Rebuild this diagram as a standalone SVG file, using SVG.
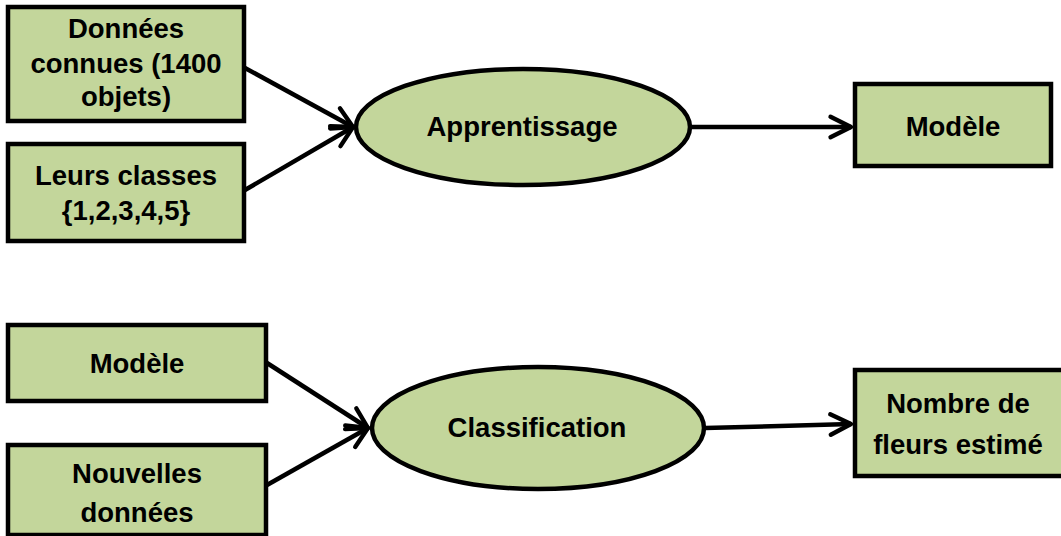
<svg xmlns="http://www.w3.org/2000/svg" width="1061" height="536" viewBox="0 0 1061 536">
<defs>
<style>
.n{fill:#C3D69B;stroke:#000;stroke-width:4.5}
.t{font-family:"Liberation Sans",Arial,sans-serif;font-weight:bold;font-size:27.5px;fill:#000;text-anchor:middle}
.c{stroke:#000;stroke-width:4.5;fill:none;marker-end:url(#ah)}
</style>
<marker id="ah" viewBox="0 0 20 20" refX="17" refY="10" markerWidth="6.5" markerHeight="6.5" markerUnits="strokeWidth" orient="auto">
<path d="M3,3 L17,10 L3,17" fill="none" stroke="#000" stroke-width="3" stroke-linecap="round" stroke-linejoin="round"/>
</marker>
</defs>
<rect width="1061" height="536" fill="#fff"/>
<g id="connectors">
<line class="c" x1="245" y1="68" x2="353" y2="127"/>
<line class="c" x1="245" y1="190" x2="353" y2="127"/>
<line class="c" x1="690" y1="127" x2="851" y2="127"/>
<line class="c" x1="267" y1="363" x2="368" y2="428"/>
<line class="c" x1="267" y1="485" x2="368" y2="428"/>
<line class="c" x1="705" y1="428" x2="851" y2="424"/>
</g>
<g id="n1"><rect class="n" x="8" y="7" width="236" height="114"/>
<text class="t" x="126" y="38">Données</text><text class="t" x="126" y="73">connues (1400</text><text class="t" x="126" y="106">objets)</text></g>
<g id="n2"><rect class="n" x="8" y="144" width="236" height="97"/>
<text class="t" x="126" y="185">Leurs classes</text><text class="t" x="126" y="220">{1,2,3,4,5}</text></g>
<g id="n3"><ellipse class="n" cx="523" cy="127" rx="167" ry="58"/>
<text class="t" x="522" y="136">Apprentissage</text></g>
<g id="n4"><rect class="n" x="855" y="84" width="196" height="82"/>
<text class="t" x="953" y="136">Modèle</text></g>
<g id="n5"><rect class="n" x="8" y="325" width="258" height="76"/>
<text class="t" x="137" y="373">Modèle</text></g>
<g id="n6"><rect class="n" x="8" y="445" width="258" height="90"/>
<text class="t" x="137" y="483">Nouvelles</text><text class="t" x="137" y="522">données</text></g>
<g id="n7"><ellipse class="n" cx="538" cy="428" rx="166" ry="61"/>
<text class="t" x="537" y="437">Classification</text></g>
<g id="n8"><rect class="n" x="855" y="370" width="210" height="106"/>
<text class="t" x="958" y="413">Nombre de</text><text class="t" x="958" y="454">fleurs estimé</text></g>
</svg>
